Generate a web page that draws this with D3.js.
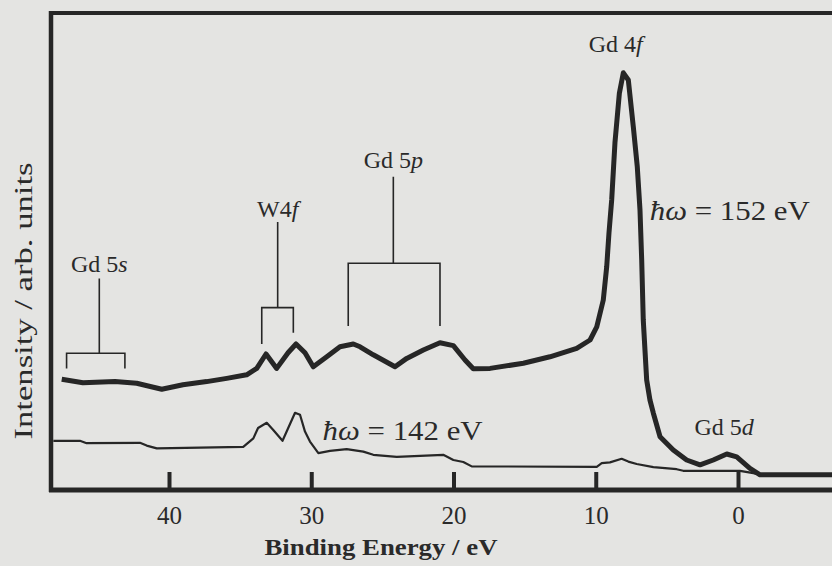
<!DOCTYPE html>
<html><head><meta charset="utf-8">
<script src="https://cdn.jsdelivr.net/npm/d3@7"></script>
<style>
html,body{margin:0;padding:0;background:#e4e4e2;}
svg{display:block;}
text{font-family:"Liberation Serif","Times New Roman",serif;fill:#2a2a2a;}
</style></head>
<body><svg id="c" width="832" height="566"></svg>
<script>
// Binding energy (eV) and intensity (arb. units)
const energy152 = [47.54,46.05,43.80,42.27,40.51,39.02,37.35,35.94,34.54,33.83,33.18,32.43,31.63,31.07,30.44,29.86,28.91,27.98,27.04,26.57,25.64,24.11,23.29,22.12,20.95,20.01,19.19,18.61,17.43,15.09,13.22,11.34,10.40,9.93,9.47,9.23,9.07,8.88,8.65,8.34,8.06,7.71,7.36,7.08,6.89,6.77,6.66,6.42,6.19,5.95,5.48,4.55,3.61,2.67,1.74,0.79,0.09,-0.84,-1.55,-7.5];
const intensity152 = [27.7,26.8,27.1,26.7,25.2,26.3,27.1,27.9,28.8,30.4,34.0,30.4,34.3,36.5,34.3,30.8,33.3,35.8,36.5,35.8,33.8,30.8,32.9,35.0,36.8,36.1,32.5,30.3,30.4,31.7,33.3,35.4,37.5,40.8,47.5,55.8,64.3,72.5,86.8,99.2,104.3,102.5,90.8,80.8,70.0,57.5,42.5,27.5,22.5,19.2,13.3,10.0,7.5,6.3,7.5,9.0,8.3,5.4,3.8,3.8];
const energy142 = [48.13,46.26,45.79,42.04,41.57,40.86,34.78,34.07,33.74,33.13,32.67,32.02,31.14,30.79,30.44,30.09,29.50,28.68,27.51,26.34,25.64,23.99,20.72,20.01,19.31,18.72,9.93,9.58,9.00,8.18,7.71,7.12,5.95,4.31,3.85,-0.14,-1.08,-1.55,-7.5];
const intensity142 = [12.3,12.3,11.7,11.8,11.1,10.4,10.8,12.9,15.5,16.8,15.0,12.3,19.3,18.8,14.6,12.1,9.2,9.8,10.2,9.6,8.8,8.3,8.8,7.5,7.0,5.9,5.8,6.7,6.9,7.8,7.1,6.5,5.7,5.2,4.8,4.8,4.2,3.8,3.8];
const tickValues = [40,30,20,10,0];
const xTitle = "Binding Energy / eV";
const yTitle = "Intensity / arb. units";
// bracket annotations: energies of bracket ends / stem, intensity levels
const bracketLabels = [["Gd 5","s"],["W4","f"],["Gd 5","p"]];
const bracketLeft  = [47.2, 33.48, 27.40];
const bracketRight = [43.1, 31.26, 20.95];
const bracketStem  = [44.9, 32.36, 24.23];
const bracketBar   = [34.2, 45.6, 56.7];
const bracketLegL  = [30.4, 36.5, 41.0];
const bracketLegR  = [30.4, 39.3, 41.0];
const bracketTop   = [52.9, 67.0, 78.3];
const bracketText  = [54.5, 68.3, 80.5];
// peak labels
const peakLabels = [["Gd 4","f"],["Gd 5","d"]];
const peakE = [8.6, 0.98];
const peakI = [109.5, 13.8];

const svg = d3.select("#c");
const x = d3.scaleLinear().domain([40,0]).range([169,738]);
const y = d3.scaleLinear().domain([0,105]).range([490,70]);
const ink = "#262626";

// frame
svg.append("line").attr("x1",51).attr("x2",840).attr("y1",13).attr("y2",13).attr("stroke",ink).attr("stroke-width",4);
svg.append("line").attr("x1",51).attr("x2",51).attr("y1",11).attr("y2",492).attr("stroke",ink).attr("stroke-width",4.5);
svg.append("line").attr("x1",49).attr("x2",840).attr("y1",y(0)).attr("y2",y(0)).attr("stroke",ink).attr("stroke-width",5);

// axis with inward ticks
const ax = svg.append("g").attr("transform",`translate(0,${y(0)})`)
  .call(d3.axisBottom(x).tickValues(tickValues).tickSizeInner(-18).tickSizeOuter(0).tickFormat(d3.format("d")));
ax.select(".domain").remove();
ax.selectAll(".tick line").attr("stroke",ink).attr("stroke-width",4);
ax.selectAll(".tick text").attr("y",34).attr("dy",0).attr("font-size",25)
  .style("font-family",'"Liberation Serif",serif').attr("fill","#2a2a2a");

// titles
svg.append("text").attr("x",381).attr("y",555).attr("text-anchor","middle")
  .attr("font-size",24).attr("font-weight","bold").attr("textLength",233).attr("lengthAdjust","spacingAndGlyphs").text(xTitle);
svg.append("text").attr("transform","translate(32,301) rotate(-90)").attr("text-anchor","middle")
  .attr("font-size",25).attr("textLength",277).attr("lengthAdjust","spacingAndGlyphs").text(yTitle);

// spectra
const line = d3.line().x(d=>x(d[0])).y(d=>y(d[1]));
svg.append("path").datum(d3.zip(energy142,intensity142)).attr("d",line)
  .attr("fill","none").attr("stroke",ink).attr("stroke-width",2.2).attr("stroke-linejoin","round");
svg.append("path").datum(d3.zip(energy152,intensity152)).attr("d",line)
  .attr("fill","none").attr("stroke",ink).attr("stroke-width",5).attr("stroke-linejoin","round");

// brackets
bracketLabels.forEach((lab,i)=>{
  const g = svg.append("g").attr("stroke",ink).attr("stroke-width",1.6).attr("fill","none");
  g.append("path").attr("d",
    `M${x(bracketLeft[i])},${y(bracketLegL[i])}V${y(bracketBar[i])}H${x(bracketRight[i])}V${y(bracketLegR[i])}`+
    `M${x(bracketStem[i])},${y(bracketBar[i])}V${y(bracketTop[i])}`);
  const t = svg.append("text").attr("x",x(bracketStem[i])).attr("y",y(bracketText[i]))
    .attr("text-anchor","middle").attr("font-size",24);
  t.append("tspan").text(lab[0]);
  t.append("tspan").attr("font-style","italic").text(lab[1]);
});

// peak labels
peakLabels.forEach((lab,i)=>{
  const t = svg.append("text").attr("x",x(peakE[i])).attr("y",y(peakI[i]))
    .attr("text-anchor","middle").attr("font-size",24);
  t.append("tspan").text(lab[0]);
  t.append("tspan").attr("font-style","italic").text(lab[1]);
});

// photon energy labels
const hw = [["152",6.2,67.5],["142",29.2,12.5]];
hw.forEach(([v,e,iv])=>{
  const t = svg.append("text").attr("x",x(e)).attr("y",y(iv)).attr("font-size",27)
    .attr("textLength",160).attr("lengthAdjust","spacingAndGlyphs");
  t.append("tspan").attr("font-style","italic").text("ħω");
  t.append("tspan").text(" = "+v+" eV");
});
</script></body></html>
